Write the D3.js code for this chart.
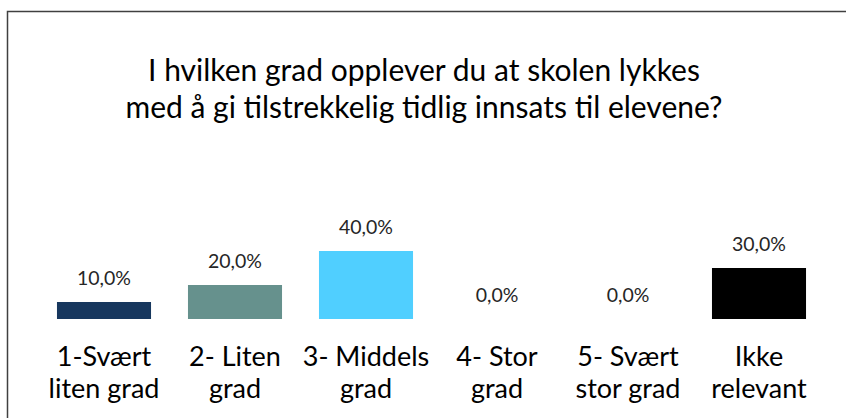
<!DOCTYPE html>
<html>
<head>
<meta charset="utf-8">
<script src="https://cdn.jsdelivr.net/npm/d3@7"></script>
<style>
  body { margin: 0; background: #fff; }
  svg { display: block; font-family: Lato, "Open Sans", sans-serif; }
</style>
</head>
<body>
<div id="chart"></div>
<script>
// данные
const titleLines = ["I hvilken grad opplever du at skolen lykkes", "med å gi tilstrekkelig tidlig innsats til elevene?"];
const categories = [
  ["1-Svært", "liten grad"],
  ["2- Liten", "grad"],
  ["3- Middels", "grad"],
  ["4- Stor", "grad"],
  ["5- Svært", "stor grad"],
  ["Ikke", "relevant"]
];
const values = [0.10, 0.20, 0.40, 0.0, 0.0, 0.30];
const colors = ["#17375e", "#66918d", "#50cfff", "#7f7f7f", "#7f7f7f", "#000000"];

const W = 846, H = 418;

const svg = d3.select("#chart").append("svg")
  .attr("width", W)
  .attr("height", H);

// рамка
svg.append("rect")
  .attr("x", 7.5).attr("y", 11.5)
  .attr("width", W + 20).attr("height", H + 20)
  .attr("fill", "none")
  .attr("stroke", "#404040")
  .attr("stroke-width", 1.5);

// заголовок
svg.append("text")
  .attr("text-anchor", "middle")
  .attr("font-size", 30)
  .attr("fill", "#000")
  .selectAll("tspan")
  .data(titleLines)
  .join("tspan")
  .attr("x", W / 2 + 1)
  .attr("y", (d, i) => 81 + i * 37)
  .text(d => d);

// шкалы
const x = d3.scaleBand()
  .domain(d3.range(categories.length))
  .range([38.5, 824.5])
  .paddingInner(0.282)
  .paddingOuter(0.141);

const y = d3.scaleLinear()
  .domain([0, 0.5])
  .range([319, 234]);

// столбцы
svg.append("g").selectAll("rect")
  .data(values)
  .join("rect")
  .attr("x", (d, i) => x(i))
  .attr("y", d => y(d))
  .attr("width", x.bandwidth())
  .attr("height", d => y(0) - y(d))
  .attr("fill", (d, i) => colors[i]);

// подписи значений
const fmt = v => (v * 100).toFixed(1).replace(".", ",") + "%";
svg.append("g").selectAll("text")
  .data(values)
  .join("text")
  .attr("x", (d, i) => x(i) + x.bandwidth() / 2)
  .attr("y", d => y(d) - 17.5)
  .attr("text-anchor", "middle")
  .attr("font-size", 19.5)
  .attr("fill", "#262626")
  .text(d => fmt(d));

// подписи категорий
const cat = svg.append("g").selectAll("text")
  .data(categories)
  .join("text")
  .attr("text-anchor", "middle")
  .attr("font-size", 27)
  .attr("fill", "#000");

cat.selectAll("tspan")
  .data((d, i) => d.map(t => ({ t, i })))
  .join("tspan")
  .attr("x", d => x(d.i) + x.bandwidth() / 2)
  .attr("y", (d, j) => 366 + j * 32)
  .text(d => d.t);
</script>
</body>
</html>
